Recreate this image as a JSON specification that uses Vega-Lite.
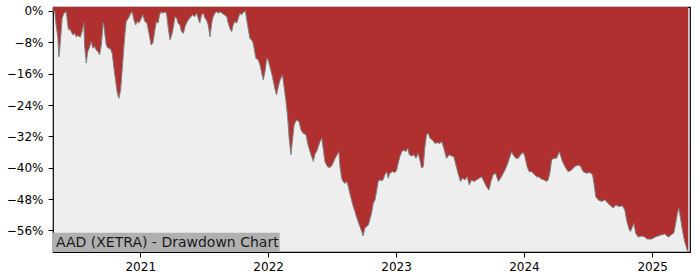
{
  "$schema": "https://vega.github.io/schema/vega-lite/v6.json",
  "width": 637,
  "height": 245,
  "autosize": {"type": "none"},
  "padding": {"left": 53, "top": 7, "right": 10, "bottom": 28},
  "background": "white",
  "config": {
    "font": "DejaVu Sans",
    "view": {"fill": "#eeeeee", "stroke": "#000000", "strokeWidth": 1.2},
    "axis": {"domain": false, "grid": false, "tickColor": "#000000", "tickSize": 5, "tickWidth": 1, "labelColor": "#000000", "labelFontSize": 12, "labelPadding": 5, "labelOverlap": false, "labelBound": false, "title": null}
  },
  "datasets": {
    "drawdown": [
      {"date": "2020-04-27", "dd": 0},
      {"date": "2020-05-02", "dd": -0.2},
      {"date": "2020-05-06", "dd": -3.6},
      {"date": "2020-05-11", "dd": -6.9},
      {"date": "2020-05-14", "dd": -11.7},
      {"date": "2020-05-18", "dd": -7.8},
      {"date": "2020-05-23", "dd": -1.9},
      {"date": "2020-05-28", "dd": -0.6},
      {"date": "2020-06-04", "dd": -0.2},
      {"date": "2020-06-07", "dd": -2.7},
      {"date": "2020-06-10", "dd": -4.8},
      {"date": "2020-06-14", "dd": -4.6},
      {"date": "2020-06-18", "dd": -5.3},
      {"date": "2020-06-23", "dd": -6.1},
      {"date": "2020-06-28", "dd": -5.7},
      {"date": "2020-07-02", "dd": -6.6},
      {"date": "2020-07-07", "dd": -6.3},
      {"date": "2020-07-14", "dd": -6.7},
      {"date": "2020-07-20", "dd": -4.8},
      {"date": "2020-07-24", "dd": -3.1},
      {"date": "2020-07-26", "dd": -8.7},
      {"date": "2020-07-31", "dd": -13.3},
      {"date": "2020-08-04", "dd": -10.4},
      {"date": "2020-08-10", "dd": -9.1},
      {"date": "2020-08-14", "dd": -7.8},
      {"date": "2020-08-19", "dd": -9.5},
      {"date": "2020-08-24", "dd": -9.1},
      {"date": "2020-08-28", "dd": -9.9},
      {"date": "2020-09-02", "dd": -10.4},
      {"date": "2020-09-07", "dd": -11.2},
      {"date": "2020-09-12", "dd": -8.7},
      {"date": "2020-09-17", "dd": -3.1},
      {"date": "2020-09-19", "dd": -3.6},
      {"date": "2020-09-23", "dd": -6.6},
      {"date": "2020-09-26", "dd": -8.7},
      {"date": "2020-10-01", "dd": -9.5},
      {"date": "2020-10-07", "dd": -9.5},
      {"date": "2020-10-13", "dd": -10.8},
      {"date": "2020-10-18", "dd": -14.6},
      {"date": "2020-10-23", "dd": -18.0},
      {"date": "2020-10-27", "dd": -20.6},
      {"date": "2020-11-01", "dd": -22.3},
      {"date": "2020-11-06", "dd": -20.2},
      {"date": "2020-11-10", "dd": -15.5},
      {"date": "2020-11-15", "dd": -9.5},
      {"date": "2020-11-18", "dd": -6.1},
      {"date": "2020-11-22", "dd": -2.7},
      {"date": "2020-11-28", "dd": -1.9},
      {"date": "2020-12-05", "dd": -0.6},
      {"date": "2020-12-09", "dd": -0.2},
      {"date": "2020-12-14", "dd": -2.3},
      {"date": "2020-12-19", "dd": -3.6},
      {"date": "2020-12-23", "dd": -2.7},
      {"date": "2020-12-28", "dd": -3.1},
      {"date": "2021-01-04", "dd": -1.9},
      {"date": "2021-01-09", "dd": -1.0},
      {"date": "2021-01-14", "dd": -2.7},
      {"date": "2021-01-20", "dd": -3.1},
      {"date": "2021-01-26", "dd": -5.7},
      {"date": "2021-02-01", "dd": -8.7},
      {"date": "2021-02-06", "dd": -8.2},
      {"date": "2021-02-11", "dd": -5.3},
      {"date": "2021-02-16", "dd": -2.7},
      {"date": "2021-02-21", "dd": -3.1},
      {"date": "2021-02-25", "dd": -1.0},
      {"date": "2021-03-02", "dd": -0.2},
      {"date": "2021-03-06", "dd": -0.6},
      {"date": "2021-03-12", "dd": -0.3},
      {"date": "2021-03-17", "dd": -0.6},
      {"date": "2021-03-22", "dd": -4.4},
      {"date": "2021-03-27", "dd": -7.4},
      {"date": "2021-04-01", "dd": -6.1},
      {"date": "2021-04-05", "dd": -4.4},
      {"date": "2021-04-10", "dd": -1.5},
      {"date": "2021-04-15", "dd": -1.9},
      {"date": "2021-04-19", "dd": -3.1},
      {"date": "2021-04-24", "dd": -3.6},
      {"date": "2021-04-29", "dd": -5.3},
      {"date": "2021-05-04", "dd": -5.7},
      {"date": "2021-05-09", "dd": -4.0},
      {"date": "2021-05-13", "dd": -3.1},
      {"date": "2021-05-18", "dd": -2.3},
      {"date": "2021-05-25", "dd": -1.5},
      {"date": "2021-05-31", "dd": -1.0},
      {"date": "2021-06-05", "dd": -1.5},
      {"date": "2021-06-11", "dd": -0.6},
      {"date": "2021-06-17", "dd": -2.3},
      {"date": "2021-06-20", "dd": -3.1},
      {"date": "2021-06-25", "dd": -1.0},
      {"date": "2021-06-30", "dd": -0.6},
      {"date": "2021-07-05", "dd": -1.9},
      {"date": "2021-07-09", "dd": -2.3},
      {"date": "2021-07-14", "dd": -3.6},
      {"date": "2021-07-19", "dd": -6.6},
      {"date": "2021-07-24", "dd": -3.1},
      {"date": "2021-07-28", "dd": -1.5},
      {"date": "2021-08-02", "dd": -0.6},
      {"date": "2021-08-07", "dd": -0.2},
      {"date": "2021-08-12", "dd": -0.6},
      {"date": "2021-08-16", "dd": -0.2},
      {"date": "2021-08-23", "dd": -0.6},
      {"date": "2021-08-29", "dd": -1.0},
      {"date": "2021-09-05", "dd": -1.5},
      {"date": "2021-09-09", "dd": -3.1},
      {"date": "2021-09-14", "dd": -4.4},
      {"date": "2021-09-19", "dd": -5.3},
      {"date": "2021-09-23", "dd": -3.6},
      {"date": "2021-09-28", "dd": -2.7},
      {"date": "2021-10-03", "dd": -3.1},
      {"date": "2021-10-08", "dd": -1.9},
      {"date": "2021-10-12", "dd": -0.6},
      {"date": "2021-10-17", "dd": -1.0},
      {"date": "2021-10-22", "dd": -0.4},
      {"date": "2021-10-28", "dd": 0},
      {"date": "2021-11-01", "dd": -2.3},
      {"date": "2021-11-05", "dd": -4.4},
      {"date": "2021-11-10", "dd": -7.0},
      {"date": "2021-11-18", "dd": -7.8},
      {"date": "2021-11-22", "dd": -9.5},
      {"date": "2021-11-27", "dd": -12.1},
      {"date": "2021-12-04", "dd": -12.5},
      {"date": "2021-12-09", "dd": -13.8},
      {"date": "2021-12-13", "dd": -15.5},
      {"date": "2021-12-18", "dd": -17.6},
      {"date": "2021-12-23", "dd": -15.5},
      {"date": "2021-12-28", "dd": -12.1},
      {"date": "2022-01-01", "dd": -12.5},
      {"date": "2022-01-06", "dd": -14.2},
      {"date": "2022-01-11", "dd": -15.9},
      {"date": "2022-01-16", "dd": -18.0},
      {"date": "2022-01-20", "dd": -19.7},
      {"date": "2022-01-25", "dd": -21.4},
      {"date": "2022-01-30", "dd": -19.3},
      {"date": "2022-02-04", "dd": -17.6},
      {"date": "2022-02-11", "dd": -16.3},
      {"date": "2022-02-16", "dd": -19.7},
      {"date": "2022-02-21", "dd": -23.1},
      {"date": "2022-02-26", "dd": -27.4},
      {"date": "2022-03-02", "dd": -32.5},
      {"date": "2022-03-07", "dd": -36.7},
      {"date": "2022-03-12", "dd": -32.5},
      {"date": "2022-03-16", "dd": -29.1},
      {"date": "2022-03-23", "dd": -27.8},
      {"date": "2022-03-30", "dd": -28.2},
      {"date": "2022-04-05", "dd": -30.4},
      {"date": "2022-04-11", "dd": -31.2},
      {"date": "2022-04-19", "dd": -31.6},
      {"date": "2022-04-25", "dd": -34.2},
      {"date": "2022-05-02", "dd": -36.3},
      {"date": "2022-05-10", "dd": -38.4},
      {"date": "2022-05-14", "dd": -36.7},
      {"date": "2022-05-21", "dd": -35.5},
      {"date": "2022-05-29", "dd": -33.3},
      {"date": "2022-06-03", "dd": -32.5},
      {"date": "2022-06-07", "dd": -35.0},
      {"date": "2022-06-12", "dd": -38.4},
      {"date": "2022-06-19", "dd": -39.7},
      {"date": "2022-06-26", "dd": -40.0},
      {"date": "2022-07-03", "dd": -39.3},
      {"date": "2022-07-11", "dd": -37.6},
      {"date": "2022-07-17", "dd": -36.7},
      {"date": "2022-07-22", "dd": -35.9},
      {"date": "2022-07-25", "dd": -39.7},
      {"date": "2022-07-30", "dd": -42.7},
      {"date": "2022-08-03", "dd": -43.5},
      {"date": "2022-08-08", "dd": -44.0},
      {"date": "2022-08-13", "dd": -43.5},
      {"date": "2022-08-18", "dd": -44.8},
      {"date": "2022-08-22", "dd": -46.5},
      {"date": "2022-08-27", "dd": -48.2},
      {"date": "2022-09-01", "dd": -49.9},
      {"date": "2022-09-06", "dd": -51.2},
      {"date": "2022-09-10", "dd": -52.5},
      {"date": "2022-09-15", "dd": -53.8},
      {"date": "2022-09-20", "dd": -55.0},
      {"date": "2022-09-25", "dd": -56.3},
      {"date": "2022-09-29", "dd": -57.4},
      {"date": "2022-10-04", "dd": -55.4},
      {"date": "2022-10-09", "dd": -55.0},
      {"date": "2022-10-14", "dd": -54.6},
      {"date": "2022-10-18", "dd": -53.3},
      {"date": "2022-10-23", "dd": -51.6},
      {"date": "2022-10-28", "dd": -49.1},
      {"date": "2022-11-02", "dd": -48.2},
      {"date": "2022-11-07", "dd": -45.7},
      {"date": "2022-11-11", "dd": -43.5},
      {"date": "2022-11-16", "dd": -43.1},
      {"date": "2022-11-21", "dd": -43.3},
      {"date": "2022-11-25", "dd": -43.1},
      {"date": "2022-11-30", "dd": -41.8},
      {"date": "2022-12-05", "dd": -41.0},
      {"date": "2022-12-10", "dd": -42.7},
      {"date": "2022-12-14", "dd": -41.4},
      {"date": "2022-12-22", "dd": -41.0},
      {"date": "2022-12-29", "dd": -41.2},
      {"date": "2023-01-03", "dd": -40.6},
      {"date": "2023-01-07", "dd": -38.9},
      {"date": "2023-01-12", "dd": -37.2},
      {"date": "2023-01-17", "dd": -35.9},
      {"date": "2023-01-23", "dd": -35.5},
      {"date": "2023-01-29", "dd": -35.9},
      {"date": "2023-02-03", "dd": -35.0},
      {"date": "2023-02-08", "dd": -36.7},
      {"date": "2023-02-14", "dd": -37.0},
      {"date": "2023-02-21", "dd": -36.7},
      {"date": "2023-02-27", "dd": -37.6},
      {"date": "2023-03-05", "dd": -36.3},
      {"date": "2023-03-10", "dd": -38.0},
      {"date": "2023-03-15", "dd": -40.1},
      {"date": "2023-03-20", "dd": -39.7},
      {"date": "2023-03-24", "dd": -35.0},
      {"date": "2023-03-29", "dd": -31.6},
      {"date": "2023-04-03", "dd": -31.2},
      {"date": "2023-04-08", "dd": -32.5},
      {"date": "2023-04-15", "dd": -32.9},
      {"date": "2023-04-22", "dd": -33.8},
      {"date": "2023-04-28", "dd": -33.6},
      {"date": "2023-05-06", "dd": -33.8},
      {"date": "2023-05-11", "dd": -33.3},
      {"date": "2023-05-16", "dd": -34.6},
      {"date": "2023-05-20", "dd": -35.9},
      {"date": "2023-05-25", "dd": -37.6},
      {"date": "2023-06-02", "dd": -36.7},
      {"date": "2023-06-09", "dd": -37.0},
      {"date": "2023-06-15", "dd": -37.2},
      {"date": "2023-06-21", "dd": -39.3},
      {"date": "2023-06-27", "dd": -41.4},
      {"date": "2023-07-04", "dd": -43.5},
      {"date": "2023-07-10", "dd": -42.7},
      {"date": "2023-07-17", "dd": -43.1},
      {"date": "2023-07-23", "dd": -42.3},
      {"date": "2023-07-29", "dd": -44.4},
      {"date": "2023-08-05", "dd": -43.1},
      {"date": "2023-08-11", "dd": -43.5},
      {"date": "2023-08-19", "dd": -43.1},
      {"date": "2023-08-26", "dd": -42.7},
      {"date": "2023-09-02", "dd": -42.3},
      {"date": "2023-09-09", "dd": -43.5},
      {"date": "2023-09-16", "dd": -44.8},
      {"date": "2023-09-23", "dd": -45.7},
      {"date": "2023-09-29", "dd": -43.5},
      {"date": "2023-10-05", "dd": -41.8},
      {"date": "2023-10-12", "dd": -41.4},
      {"date": "2023-10-20", "dd": -43.5},
      {"date": "2023-10-26", "dd": -42.7},
      {"date": "2023-11-01", "dd": -41.8},
      {"date": "2023-11-08", "dd": -40.6},
      {"date": "2023-11-14", "dd": -39.3},
      {"date": "2023-11-22", "dd": -37.2},
      {"date": "2023-11-27", "dd": -35.9},
      {"date": "2023-12-01", "dd": -36.7},
      {"date": "2023-12-09", "dd": -37.6},
      {"date": "2023-12-16", "dd": -37.6},
      {"date": "2023-12-22", "dd": -36.7},
      {"date": "2023-12-30", "dd": -36.1},
      {"date": "2024-01-04", "dd": -37.2},
      {"date": "2024-01-10", "dd": -39.7},
      {"date": "2024-01-16", "dd": -41.0},
      {"date": "2024-01-23", "dd": -41.0},
      {"date": "2024-01-29", "dd": -41.6},
      {"date": "2024-02-06", "dd": -42.3},
      {"date": "2024-02-14", "dd": -42.4},
      {"date": "2024-02-20", "dd": -42.9},
      {"date": "2024-02-27", "dd": -43.1},
      {"date": "2024-03-06", "dd": -43.5},
      {"date": "2024-03-10", "dd": -43.1},
      {"date": "2024-03-15", "dd": -41.4},
      {"date": "2024-03-20", "dd": -38.0},
      {"date": "2024-03-26", "dd": -37.6},
      {"date": "2024-04-03", "dd": -37.6},
      {"date": "2024-04-11", "dd": -35.9},
      {"date": "2024-04-20", "dd": -38.4},
      {"date": "2024-04-27", "dd": -39.7},
      {"date": "2024-05-06", "dd": -41.0},
      {"date": "2024-05-16", "dd": -40.6},
      {"date": "2024-05-25", "dd": -39.7},
      {"date": "2024-06-04", "dd": -39.3},
      {"date": "2024-06-11", "dd": -39.7},
      {"date": "2024-06-18", "dd": -41.0},
      {"date": "2024-06-28", "dd": -41.4},
      {"date": "2024-07-07", "dd": -41.2},
      {"date": "2024-07-15", "dd": -41.8},
      {"date": "2024-07-19", "dd": -44.0},
      {"date": "2024-07-24", "dd": -47.4},
      {"date": "2024-07-31", "dd": -48.2},
      {"date": "2024-08-10", "dd": -48.6},
      {"date": "2024-08-19", "dd": -48.2},
      {"date": "2024-08-28", "dd": -49.1},
      {"date": "2024-09-07", "dd": -49.9},
      {"date": "2024-09-12", "dd": -50.3},
      {"date": "2024-09-19", "dd": -49.5},
      {"date": "2024-09-29", "dd": -49.9},
      {"date": "2024-10-08", "dd": -49.7},
      {"date": "2024-10-15", "dd": -50.8},
      {"date": "2024-10-20", "dd": -53.3},
      {"date": "2024-10-26", "dd": -55.4},
      {"date": "2024-10-31", "dd": -56.3},
      {"date": "2024-11-06", "dd": -55.0},
      {"date": "2024-11-10", "dd": -54.2},
      {"date": "2024-11-15", "dd": -56.7},
      {"date": "2024-11-22", "dd": -57.7},
      {"date": "2024-12-02", "dd": -57.4},
      {"date": "2024-12-11", "dd": -57.7},
      {"date": "2024-12-18", "dd": -58.2},
      {"date": "2024-12-30", "dd": -58.2},
      {"date": "2025-01-09", "dd": -57.7},
      {"date": "2025-01-18", "dd": -57.4},
      {"date": "2025-01-28", "dd": -57.1},
      {"date": "2025-02-06", "dd": -56.9},
      {"date": "2025-02-16", "dd": -57.7},
      {"date": "2025-02-25", "dd": -57.1},
      {"date": "2025-03-04", "dd": -56.6},
      {"date": "2025-03-10", "dd": -53.8},
      {"date": "2025-03-14", "dd": -51.6},
      {"date": "2025-03-18", "dd": -50.3},
      {"date": "2025-03-23", "dd": -52.9},
      {"date": "2025-03-29", "dd": -56.3},
      {"date": "2025-04-04", "dd": -58.9},
      {"date": "2025-04-11", "dd": -61.0},
      {"date": "2025-04-14", "dd": -61.4}
    ],
    "label": [
      {"text": "AAD (XETRA) - Drawdown Chart"}
    ]
  },
  "layer": [
    {
      "data": {"name": "drawdown"},
      "mark": {"type": "area", "color": "#b03030", "interpolate": "linear"},
      "encoding": {
        "x": {
          "field": "date",
          "type": "temporal",
          "scale": {"type": "utc", "domain": [{"year": 2020, "month": 4, "date": 27, "utc": true}, {"year": 2025, "month": 4, "date": 19, "utc": true}], "nice": false},
          "axis": {"values": [{"year": 2021, "month": 1, "date": 1, "utc": true}, {"year": 2022, "month": 1, "date": 1, "utc": true}, {"year": 2023, "month": 1, "date": 1, "utc": true}, {"year": 2024, "month": 1, "date": 1, "utc": true}, {"year": 2025, "month": 1, "date": 1, "utc": true}], "format": "%Y", "formatType": "utc", "labelPadding": 4, "labelFlush": false, "tickCount": 20}
        },
        "y": {
          "field": "dd",
          "type": "quantitative",
          "scale": {"domain": [-61.5, 1.0], "nice": false, "zero": false},
          "axis": {"values": [0, -8, -16, -24, -32, -40, -48, -56], "tickCount": 20, "labelExpr": "replace(format(datum.value, 'd'), '-', '\u2212') + '%'", "labelOverlap": false}
        },
        "y2": {"datum": 1.0}
      }
    },
    {
      "data": {"name": "drawdown"},
      "mark": {"type": "line", "color": "#808080", "strokeWidth": 1, "interpolate": "linear"},
      "encoding": {
        "x": {"field": "date", "type": "temporal"},
        "y": {"field": "dd", "type": "quantitative"}
      }
    },
    {
      "data": {"name": "label"},
      "mark": {"type": "rect", "color": "#b0b0b0", "opacity": 1},
      "encoding": {
        "x": {"datum": {"year": 2020, "month": 4, "date": 27, "utc": true}, "type": "temporal"},
        "x2": {"datum": {"year": 2022, "month": 2, "date": 3, "utc": true}},
        "y": {"datum": -61.5, "type": "quantitative"},
        "y2": {"datum": -56.6}
      }
    },
    {
      "data": {"name": "label"},
      "mark": {"type": "text", "align": "left", "baseline": "alphabetic", "dx": 3, "fontSize": 14, "color": "#1a1a1a"},
      "encoding": {
        "x": {"datum": {"year": 2020, "month": 4, "date": 27, "utc": true}, "type": "temporal"},
        "y": {"datum": -60.1, "type": "quantitative"},
        "text": {"field": "text"}
      }
    }
  ]
}
